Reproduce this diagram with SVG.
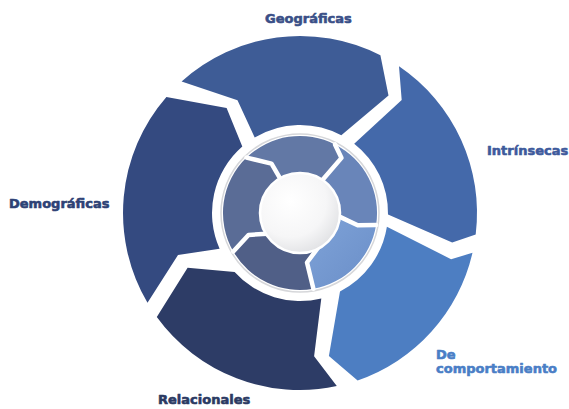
<svg xmlns="http://www.w3.org/2000/svg" width="569" height="409" viewBox="0 0 569 409">
<style>
.lbl{font-family:"DejaVu Sans","Liberation Sans",sans-serif;font-weight:bold;font-size:13px;stroke-width:0.6;stroke-linejoin:round}
.gap{fill:none;stroke:#ffffff;stroke-width:4.5;stroke-linejoin:round;stroke-linecap:round}
</style>
<defs>
<radialGradient id="core" cx="0.38" cy="0.35" r="0.75">
<stop offset="0" stop-color="#ffffff"/>
<stop offset="0.6" stop-color="#f6f6f7"/>
<stop offset="1" stop-color="#dcdde0"/>
</radialGradient>
<linearGradient id="lite" x1="0" y1="0" x2="1" y2="1">
<stop offset="0" stop-color="#7fa3d8"/>
<stop offset="1" stop-color="#6a8ec8"/>
</linearGradient>
</defs>
<rect width="569" height="409" fill="#ffffff"/>
<g id="connectors"/>
<g id="geograficas">
<path fill="#3e5c96" d="M181.6,81.5 A177,177 0 0 1 380.4,55.3 L388.5,95.6 L341.3,135.3 A88,88 0 0 0 254.7,137.6 L237.5,100.2 Z"/>
<text class="lbl" x="265" y="23" fill="#3a4f87" stroke="#3a4f87">Geográficas</text>
</g>
<g id="intrinsecas">
<path fill="#4469aa" d="M399.0,66.3 A177,177 0 0 1 475.7,234.6 L452.2,242.6 L388.0,214.5 A88,88 0 0 0 354.2,143.7 L401.7,100.0 Z"/>
<text class="lbl" x="487" y="155" fill="#3e5a9c" stroke="#3e5a9c">Intrínsecas</text>
</g>
<g id="de-comportamiento">
<path fill="#4d7ec2" d="M472.5,252.8 A177,177 0 0 1 357.6,380.4 L328.9,356.1 L340.0,291.4 A88,88 0 0 0 386.9,226.8 L451.1,259.2 Z"/>
<text class="lbl" x="436" y="359" fill="#4a7ec6" stroke="#4a7ec6">De</text>
<text class="lbl" x="436" y="372.5" fill="#4a7ec6" stroke="#4a7ec6">comportamiento</text>
</g>
<g id="relacionales">
<path fill="#2d3c66" d="M336.8,386.1 A177,177 0 0 1 156.8,317.0 L187.6,267.8 L234.6,271.9 A88,88 0 0 0 321.3,298.4 L314.1,356.3 Z"/>
<text class="lbl" x="158" y="404" fill="#2b3a63" stroke="#2b3a63">Relacionales</text>
</g>
<g id="demograficas">
<path fill="#344a80" d="M147.5,302.8 A177,177 0 0 1 166.4,96.9 L226.6,108.1 L242.3,146.6 A88,88 0 0 0 219.6,248.8 L178.0,255.0 Z"/>
<text class="lbl" x="9" y="208" fill="#2e4275" stroke="#2e4275">Demográficas</text>
</g>
<g id="hub">
<circle cx="300" cy="213" r="79" fill="#ffffff" stroke="#d6d7da" stroke-width="1.5"/>
<path fill="#6278a5" d="M246.5,157.6 A77,77 0 0 1 335.0,144.4 L341.5,157.9 L321.8,180.7 A39,39 0 0 0 280.5,179.2 L271.5,163.6 Z"/>
<path fill="#6985b9" d="M335.0,144.4 A77,77 0 0 1 376.1,225.0 L357.7,225.3 L338.9,216.4 A39,39 0 0 0 321.8,180.7 L341.5,157.9 Z"/>
<path fill="url(#lite)" d="M376.1,225.0 A77,77 0 0 1 313.4,288.8 L307.0,262.5 L318.3,247.4 A39,39 0 0 0 338.9,216.4 L357.7,225.3 Z"/>
<path fill="#505f87" d="M313.4,288.8 A77,77 0 0 1 233.3,251.5 L248.5,234.9 L266.9,233.7 A39,39 0 0 0 318.3,247.4 L307.0,262.5 Z"/>
<path fill="#5a6c96" d="M233.3,251.5 A77,77 0 0 1 246.5,157.6 L271.5,163.6 L280.5,179.2 A39,39 0 0 0 266.9,233.7 L248.5,234.9 Z"/>
<polyline class="gap" points="246.5,157.6 271.5,163.6 280.5,179.2"/>
<polyline class="gap" points="335.0,144.4 341.5,157.9 321.8,180.7"/>
<polyline class="gap" points="376.1,225.0 357.7,225.3 338.9,216.4"/>
<polyline class="gap" points="313.4,288.8 307.0,262.5 318.3,247.4"/>
<polyline class="gap" points="233.3,251.5 248.5,234.9 266.9,233.7"/>
<circle cx="300" cy="213" r="40" fill="url(#core)" stroke="#ffffff" stroke-width="2.5"/>
</g>
</svg>
